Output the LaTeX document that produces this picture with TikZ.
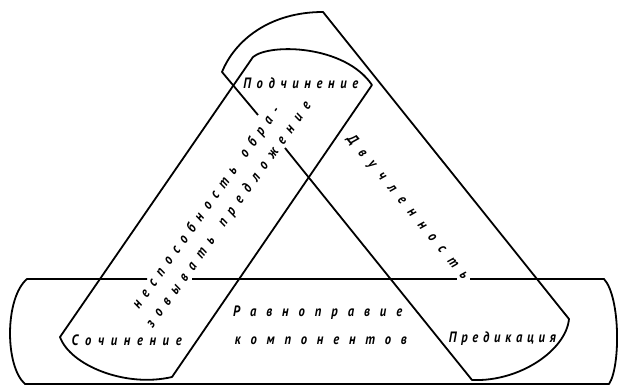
\documentclass[tikz,border=0pt]{standalone}
\usepackage{fontspec}
\newfontfamily\gost{PT Sans}[FakeStretch=0.84]
\def\sprd#1{\sprdA#1\relax}
\def\sprdA#1{\ifx#1\relax\else#1\expandafter\sprdB\fi}
\def\sprdB#1{\ifx#1\relax\else\hfill#1\expandafter\sprdB\fi}
\newcommand\wbox[2]{\makebox[#1][s]{#2}}
\begin{document}
\begin{tikzpicture}[x=1pt,y=-1pt,line width=1.8pt,line join=round,
  lbl/.style={font=\gost\bfseries\itshape\fontsize{15}{17}\selectfont,inner sep=0pt,text height=7.5pt,text depth=0pt}]
\useasboundingbox (0,0) rectangle (619,387);
% bottom band
\draw (192,279) -- (457,279);
\draw (470,279) -- (604,279) .. controls (620.5,297) and (620.5,367) .. (609,384) -- (25,384) .. controls (4.7,366) and (4.7,298) .. (27,279) -- (147,279);
% left band
\draw (60,337) -- (253,57) .. controls (270,43) and (345,45) .. (372,85) -- (172,377) .. controls (125,388) and (70,365) .. (60,337) -- cycle;
% right band
\draw (258,115) -- (222,72) .. controls (235,40) and (270,12) .. (323,12) -- (569,319) .. controls (566,350) and (520,382) .. (472,380) -- (285,148);
% texts
\node[lbl] (podch) at (300.8,84.5) {\wbox{115pt}{\sprd{Подчинение}}};
\node[lbl] (soch) at (126.7,341.8) {\wbox{110pt}{\sprd{Сочинение}}};
\node[lbl] (ravn) at (317.7,313) {\wbox{169pt}{\sprd{Равноправие}}};
\node[lbl] (komp) at (320.8,341) {\wbox{172pt}{\sprd{компонентов}}};
\node[lbl] (pred) at (502.4,338.5) {\wbox{107pt}{\sprd{Предикация}}};
\node[lbl,rotate=-50.5] (dvu) at (407.4,207.5) {\wbox{183pt}{\sprd{Двучленность}}};
\node[lbl,rotate=54.5] (nesp) at (206.8,207.9) {\wbox{244pt}{\sprd{неспособность}\hfill\hfill\sprd{обра-}}};
\node[lbl,rotate=54.5] (zov) at (229.2,215.1) {\wbox{273pt}{\sprd{зовывать}\hfill\hfill\sprd{предложение}}};
\end{tikzpicture}
\end{document}
